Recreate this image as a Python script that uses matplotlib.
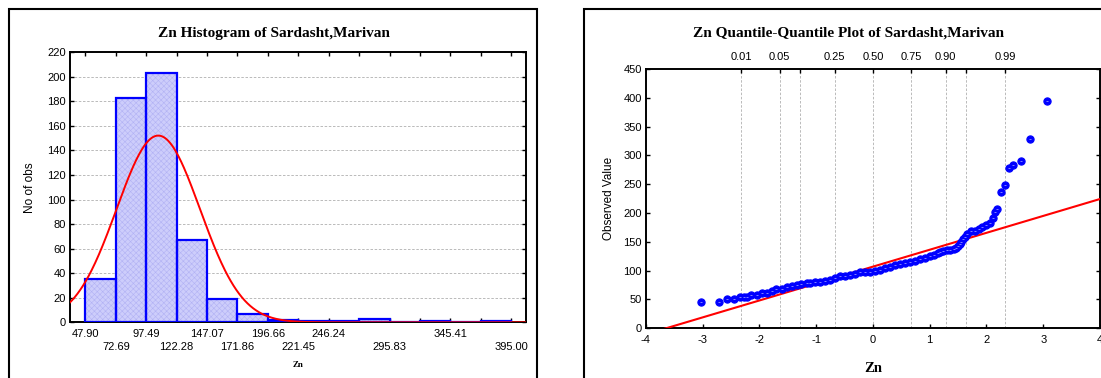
import numpy as np
import matplotlib
matplotlib.use("Agg")
import matplotlib.pyplot as plt
from matplotlib.patches import Rectangle
from statistics import NormalDist

plt.rcParams["font.family"] = "Liberation Sans"
plt.rcParams["hatch.linewidth"] = 0.4
plt.rcParams["axes.unicode_minus"] = False

# histogram data
BIN_EDGES = [47.90, 72.69, 97.49, 122.28, 147.07, 171.86, 196.66, 221.45,
             246.24, 271.03, 295.83, 320.62, 345.41, 370.20, 395.00]
BIN_COUNTS = [35, 183, 203, 67, 19, 7, 2, 1, 1, 3, 0, 1, 0, 1]
UPPER_LABELS = ["47.90", "97.49", "147.07", "196.66", "246.24", "345.41"]
LOWER_LABELS = ["72.69", "122.28", "171.86", "221.45", "295.83", "395.00"]
HIST_MEAN = 107.3
HIST_SD = 34.0

# q-q plot data (expected normal value, observed value)
QQ_EXPECTED = [-3.03, -2.71, -2.57, -2.44, -2.35, -2.28, -2.22, -2.14, -2.05,
               -1.96, -1.87, -1.78, -1.70, -1.61, -1.52, -1.43, -1.34, -1.26,
               -1.17, -1.11, -1.02, -0.93, -0.84, -0.76, -0.67, -0.58, -0.49,
               -0.40, -0.31, -0.23, -0.14, -0.05, 0.04, 0.12, 0.21, 0.30,
               0.39, 0.48, 0.57, 0.65, 0.74, 0.83, 0.92, 1.00, 1.08, 1.15,
               1.18, 1.24, 1.30, 1.36, 1.42, 1.46, 1.50, 1.53, 1.56, 1.59,
               1.62, 1.66, 1.72, 1.80, 1.86, 1.92, 1.99, 2.06, 2.11, 2.15,
               2.19, 2.26, 2.33, 2.40, 2.47, 2.61, 2.76, 3.07]
QQ_OBSERVED = [46, 46, 50, 50, 54, 54, 54, 57, 58,
               61, 62, 64, 68, 69, 71, 74, 76, 77,
               79, 79, 80, 81, 82, 84, 87, 90, 91,
               93, 95, 97, 97, 98, 100, 102, 105, 107,
               109, 112, 113, 115, 117, 120, 122, 125, 127, 130,
               133, 134, 136, 136, 138, 140, 143, 146, 150, 155,
               159, 164, 169, 169, 172, 175, 179, 183, 191, 201,
               207, 237, 249, 279, 283, 290, 328, 394]
QQ_LINE_MEAN = 107.0
QQ_LINE_SD = 29.35
PROBS = [0.01, 0.05, 0.10, 0.25, 0.50, 0.75, 0.90, 0.95, 0.99]
PROB_LABELS = ["0.01", "0.05", "", "0.25", "0.50", "0.75", "0.90", "", "0.99"]

W, H = 1101, 378
fig = plt.figure(figsize=(W / 100, H / 100), dpi=100)

# panel frames
fig.add_artist(Rectangle((8.8 / W, -0.1), (536.5 - 8.8) / W, 1.1 - 9.3 / H,
                         transform=fig.transFigure, fill=False, lw=1.5, ec="black"))
fig.add_artist(Rectangle((584.4 / W, -0.1), 0.6, 1.1 - 9.3 / H,
                         transform=fig.transFigure, fill=False, lw=1.5, ec="black"))

serif = "Liberation Serif"

# ---------- histogram ----------
ax = fig.add_axes([70.2 / W, 1 - 322.3 / H, (526.4 - 70.2) / W, (322.3 - 52.3) / H])
edges = np.array(BIN_EDGES)
widths = np.diff(edges)
counts = np.array(BIN_COUNTS)
ax.bar(edges[:-1], counts, width=widths, align="edge", color="#cdcdfb",
       edgecolor="#b2b2f4", hatch="xxxxxx", linewidth=0, zorder=2)
ax.bar(edges[:-1], counts, width=widths, align="edge", fill=False,
       edgecolor="#0000ff", linewidth=1.6, zorder=3)

bw = widths.mean()
xs = np.linspace(30, 410, 500)
nd = NormalDist(HIST_MEAN, HIST_SD)
ax.plot(xs, [counts.sum() * bw * nd.pdf(v) for v in xs], color="#ff0000", lw=1.4, zorder=4)

ax.set_xlim(edges[0] - bw / 2, edges[-1] + bw / 2)
ax.set_ylim(0, 220)
ax.set_yticks(range(0, 221, 20))

# upper row of edge labels on major ticks, lower row on minor ticks
upper_pos = [e for e in BIN_EDGES if f"{e:.2f}" in UPPER_LABELS]
minor_pos = [e for e in BIN_EDGES if f"{e:.2f}" not in UPPER_LABELS]
ax.set_xticks(upper_pos)
ax.set_xticklabels(UPPER_LABELS)
ax.set_xticks(minor_pos, minor=True)
ax.set_xticklabels([f"{e:.2f}" if f"{e:.2f}" in LOWER_LABELS else "" for e in minor_pos],
                   minor=True)
ax.yaxis.grid(True, linestyle=(0, (3, 2)), color="#b0b0b0", lw=0.6, zorder=0)
ax.set_axisbelow(True)
ax.tick_params(which="both", direction="in", length=3, width=1, top=True, right=True,
               labelsize=8)
ax.tick_params(axis="x", which="major", pad=5)
ax.tick_params(axis="x", which="minor", pad=14.5)
ax.tick_params(axis="y", pad=3)
for s in ax.spines.values():
    s.set_linewidth(1.4)
ax.set_ylabel("No of obs", fontsize=8.5, labelpad=8)
ax.set_xlabel("Zn", fontsize=6.5, family=serif, fontweight="bold", labelpad=6)
fig.text(273.6 / W, 1 - 33.3 / H, "Zn Histogram of Sardasht,Marivan", family=serif,
         fontweight="bold", fontsize=11, ha="center", va="center")

# ---------- q-q plot ----------
ax2 = fig.add_axes([645.9 / W, 1 - 328.3 / H, (1100 - 645.9) / W, (328.3 - 69) / H])
zs = np.array([-4, 4])
ax2.plot(zs, QQ_LINE_MEAN + QQ_LINE_SD * zs, color="#ff0000", lw=1.5, zorder=3)
ax2.plot(QQ_EXPECTED, QQ_OBSERVED, "o", ms=5.2, color="#0000ff", mec="#0000ff",
         mew=0.8, zorder=4)
ax2.plot(QQ_EXPECTED, QQ_OBSERVED, "_", ms=1.0, color="#e0e0ff", mew=0.4, zorder=5)
ax2.set_xlim(-4, 4)
ax2.set_ylim(0, 450)
ax2.set_xticks(range(-4, 5))
ax2.set_yticks(range(0, 451, 50))
ax2.tick_params(direction="in", length=3, width=1, right=True, labelsize=8)
ax2.tick_params(axis="x", pad=5)
ax2.tick_params(axis="y", pad=3)
for s in ax2.spines.values():
    s.set_linewidth(1.4)

pz = [NormalDist().inv_cdf(p) for p in PROBS]
for z in pz:
    ax2.axvline(z, linestyle=(0, (3, 2)), color="#b0b0b0", lw=0.6, zorder=1)
top = ax2.twiny()
top.set_xlim(-4, 4)
top.set_xticks(pz)
top.set_xticklabels(PROB_LABELS)
top.tick_params(direction="in", length=3, width=1, labelsize=8, pad=5)
for s in top.spines.values():
    s.set_visible(False)

ax2.set_ylabel("Observed Value", fontsize=8.5, labelpad=6)
ax2.set_xlabel("Zn", fontsize=10.5, family=serif, fontweight="bold", labelpad=12)
fig.text(848.7 / W, 1 - 33.3 / H, "Zn Quantile-Quantile Plot of Sardasht,Marivan",
         family=serif, fontweight="bold", fontsize=11, ha="center", va="center")

fig.savefig("out.png", dpi=100)
